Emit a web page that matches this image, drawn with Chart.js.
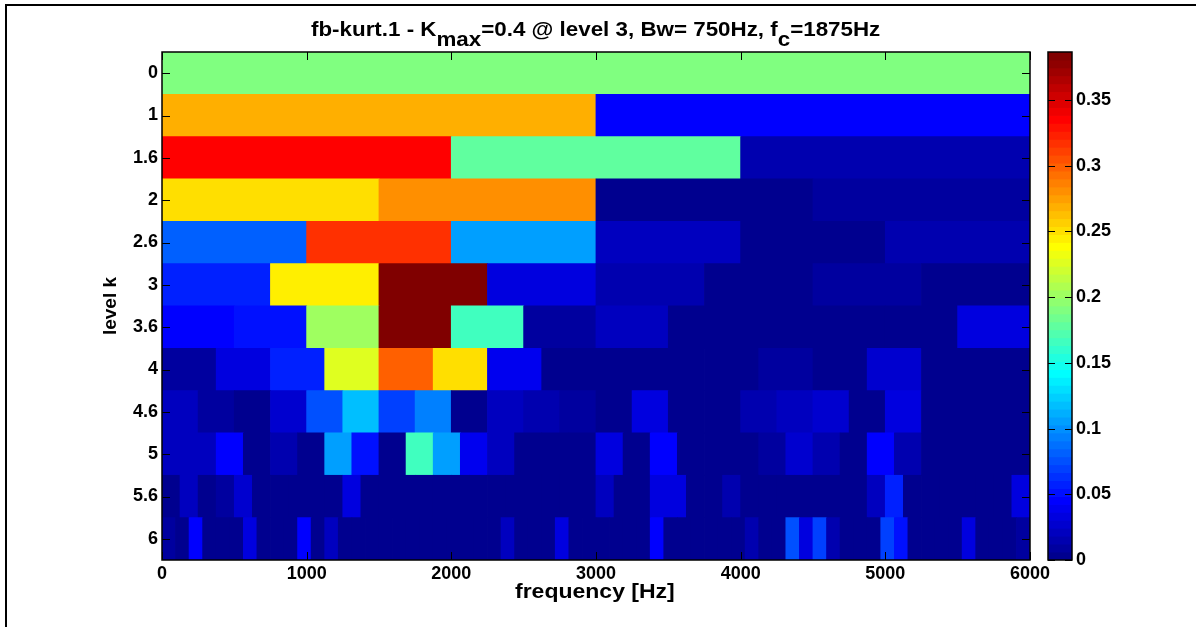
<!DOCTYPE html>
<html>
<head>
<meta charset="utf-8">
<title>fb-kurt.1</title>
<script src="https://cdn.jsdelivr.net/npm/chart.js@4"></script>
<style>
  html, body { margin: 0; padding: 0; background: #fff; }
  body { position: relative; width: 1196px; height: 627px; overflow: hidden; }
  canvas { position: absolute; top: 0; }
  #mainChart { left: 0; }
  #barChart { left: 1040px; }
  #frame { position: absolute; left: 5px; top: 4px; width: 1191px; height: 623px; border-left: 2px solid #000; border-top: 2px solid #000; box-sizing: border-box; }
  .stretched { position: absolute; font: bold 20px "Liberation Sans", Arial, sans-serif; line-height: 22px; white-space: nowrap; color: #000; transform-origin: left top; }
  #plotTitle { left: 311px; top: 18px; transform: scaleX(1.118); }
  #plotTitle span { position: relative; top: 10px; }
  #freqLabel { left: 515px; top: 580px; transform: scaleX(1.15); }
</style>
</head>
<body>
<div id="frame"></div>
<canvas id="mainChart" width="1196" height="627"></canvas>
<canvas id="barChart" width="156" height="627"></canvas>
<div id="plotTitle" class="stretched">fb-kurt.1 - K<span>max</span>=0.4 @ level 3, Bw= 750Hz, f<span>c</span>=1875Hz</div>
<div id="freqLabel" class="stretched">frequency [Hz]</div>
<script>
// kurtogram rows, top to bottom. each row splits 0-6000 Hz into equal bands
const levels = ['0', '1', '1.6', '2', '2.6', '3', '3.6', '4', '4.6', '5', '5.6', '6'];
const freqTicks = [0, 1000, 2000, 3000, 4000, 5000, 6000];
const colorbarTicks = [0, 0.05, 0.1, 0.15, 0.2, 0.25, 0.3, 0.35];
const maxFreq = 6000;
const maxKurt = 0.3866;

const k0 = [0.1925];
const k1 = [0.271, 0.048];
const k16 = [0.338, 0.18, 0.018];
const k2 = [0.254, 0.282, 0.003, 0.014];
const k26 = [0.084, 0.318, 0.109, 0.024, 0.003, 0.016];
const k3 = [0.063, 0.246, 0.3866, 0.037, 0.018, 0.003, 0.014, 0.003];
const k36 = [0.048, 0.054, 0.205, 0.3866, 0.168, 0.014, 0.024, 0.003, 0.003, 0.003, 0.003, 0.035];
const k4 = [0.014, 0.035, 0.059, 0.23, 0.305, 0.256, 0.044, 0.003, 0.003, 0.003, 0.003, 0.01, 0.003, 0.031, 0.003, 0.008];
const k46 = [0.026, 0.014, 0.003, 0.031, 0.078, 0.12, 0.075, 0.097, 0.003, 0.026, 0.018, 0.014,
  0.003, 0.039, 0.003, 0.003, 0.018, 0.026, 0.031, 0.003, 0.037, 0.003, 0.003, 0.003];
const k5 = [0.024, 0.024, 0.048, 0.003, 0.018, 0.003, 0.109, 0.054, 0.003, 0.168, 0.109, 0.044, 0.024, 0.005, 0.005, 0.005,
  0.039, 0.003, 0.046, 0.003, 0.003, 0.003, 0.01, 0.031, 0.018, 0.003, 0.048, 0.018, 0.003, 0.003, 0.003, 0.003];
const k56 = [0.005, 0.024, 0.008, 0.01, 0.031, 0.003, 0.003, 0.003, 0.006, 0.006, 0.039, 0.003,
  0.003, 0.008, 0.003, 0.003, 0.003, 0.003, 0.003, 0.003, 0.003, 0.006, 0.003, 0.003,
  0.026, 0.003, 0.003, 0.037, 0.037, 0.003, 0.003, 0.018, 0.003, 0.003, 0.003, 0.003,
  0.003, 0.003, 0.003, 0.024, 0.058, 0.003, 0.003, 0.003, 0.003, 0.003, 0.003, 0.037];
const k6 = [0.014, 0.005, 0.048, 0.005, 0.008, 0.003, 0.037, 0.003, 0.003, 0.003, 0.05, 0.003, 0.024, 0.003, 0.003, 0.003,
  0.003, 0.003, 0.003, 0.003, 0.003, 0.003, 0.003, 0.003, 0.003, 0.024, 0.003, 0.003, 0.006, 0.037, 0.003, 0.003,
  0.003, 0.003, 0.003, 0.003, 0.048, 0.003, 0.003, 0.003, 0.003, 0.003, 0.005, 0.018, 0.003, 0.003, 0.078, 0.037,
  0.071, 0.018, 0.003, 0.008, 0.008, 0.071, 0.056, 0.003, 0.003, 0.003, 0.003, 0.035, 0.003, 0.003, 0.003, 0.014];
const rows = [k0, k1, k16, k2, k26, k3, k36, k4, k46, k5, k56, k6];

const FONT = '"Liberation Sans", Arial, sans-serif';

// matlab jet(64), nearest level
function jet(t) {
  const c = Math.min(64, Math.max(1, Math.round(t * 64))) / 64;
  const ch = v => Math.round(255 * Math.max(0, Math.min(1, v)));
  const r = ch(Math.min(4 * c - 1.5, -4 * c + 4.5));
  const g = ch(Math.min(4 * c - 0.5, -4 * c + 3.5));
  const b = ch(Math.min(4 * c + 0.5, -4 * c + 2.5));
  return `rgb(${r},${g},${b})`;
}

const cells = [];
const cellColors = [];
rows.forEach((row, r) => {
  row.forEach((v, i) => {
    cells.push({ x: [i * maxFreq / row.length, (i + 1) * maxFreq / row.length], y: levels[r] });
    cellColors.push(jet(v / maxKurt));
  });
});

// matlab style box, ticks point inwards
const boxTicks = {
  id: 'boxTicks',
  afterDatasetsDraw(chart, args, opts) {
    const { ctx, chartArea: a, scales } = chart;
    ctx.save();
    ctx.strokeStyle = '#000';
    ctx.lineWidth = 1;
    const len = opts.len;
    if (opts.xTicks) {
      scales.x.ticks.forEach((t, i) => {
        const x = Math.round(scales.x.getPixelForTick(i)) + 0.5;
        ctx.beginPath();
        ctx.moveTo(x, a.top); ctx.lineTo(x, a.top + len);
        ctx.moveTo(x, a.bottom); ctx.lineTo(x, a.bottom - len);
        ctx.stroke();
      });
    }
    scales.y.ticks.forEach((t, i) => {
      const y = Math.round(scales.y.getPixelForTick(i)) + 0.5;
      ctx.beginPath();
      ctx.moveTo(a.left, y); ctx.lineTo(a.left + len, y);
      ctx.moveTo(a.right, y); ctx.lineTo(a.right - len, y);
      ctx.stroke();
    });
    ctx.lineWidth = 1.5;
    ctx.strokeRect(a.left, a.top, a.right - a.left, a.bottom - a.top);
    ctx.restore();
  }
};

new Chart(document.getElementById('mainChart'), {
  type: 'bar',
  data: {
    labels: levels,
    datasets: [{
      data: cells,
      backgroundColor: cellColors,
      borderWidth: 0,
      borderSkipped: false,
      barPercentage: 1,
      categoryPercentage: 1,
      inflateAmount: 0.4
    }]
  },
  plugins: [boxTicks],
  options: {
    indexAxis: 'y',
    responsive: false,
    animation: false,
    events: [],
    layout: { padding: { left: 99, right: 166, top: 52, bottom: 24 } },
    plugins: {
      legend: { display: false },
      tooltip: { enabled: false },
      boxTicks: { len: 8, xTicks: true }
    },
    scales: {
      x: {
        type: 'linear',
        min: 0,
        max: maxFreq,
        afterBuildTicks: s => { s.ticks = freqTicks.map(v => ({ value: v })); },
        afterFit: s => { s.height = 43; },
        grid: { display: false, drawTicks: false },
        border: { display: false },
        ticks: { color: '#000', font: { family: FONT, size: 18, weight: 'bold' }, padding: 3, maxRotation: 0, autoSkip: false, callback: v => String(v) }
      },
      y: {
        type: 'category',
        labels: levels,
        offset: true,
        afterFit: s => { s.width = 63; },
        grid: { display: false, drawTicks: false },
        border: { display: false },
        ticks: { color: '#000', font: { family: FONT, size: 18, weight: 'bold' }, padding: 4, autoSkip: false },
        title: { display: true, text: 'level k', color: '#000', font: { family: FONT, size: 19, weight: 'bold' }, padding: 0 }
      }
    }
  }
});

// colorbar
const rampLabels = ['k'];
const rampCells = [];
const rampColors = [];
for (let i = 0; i < 64; i++) {
  rampCells.push({ x: 'k', y: [i * maxKurt / 64, (i + 1) * maxKurt / 64] });
  rampColors.push(jet((i + 1) / 64));
}

new Chart(document.getElementById('barChart'), {
  type: 'bar',
  data: {
    labels: rampLabels,
    datasets: [{
      data: rampCells,
      backgroundColor: rampColors,
      borderWidth: 0,
      borderSkipped: false,
      grouped: false,
      barPercentage: 1,
      categoryPercentage: 1,
      inflateAmount: 0.4
    }]
  },
  plugins: [boxTicks],
  options: {
    responsive: false,
    animation: false,
    events: [],
    layout: { padding: { left: 8, right: 24, top: 52, bottom: 67 } },
    plugins: {
      legend: { display: false },
      tooltip: { enabled: false },
      boxTicks: { len: 7, xTicks: false }
    },
    scales: {
      x: { type: 'category', labels: rampLabels, display: false },
      y: {
        type: 'linear',
        position: 'right',
        min: 0,
        max: maxKurt,
        afterBuildTicks: s => { s.ticks = colorbarTicks.map(v => ({ value: v })); },
        afterFit: s => { s.width = 100; },
        grid: { display: false, drawTicks: false },
        border: { display: false },
        ticks: { color: '#000', font: { family: FONT, size: 18, weight: 'bold' }, padding: 4, callback: v => String(v) }
      }
    }
  }
});
</script>
</body>
</html>
